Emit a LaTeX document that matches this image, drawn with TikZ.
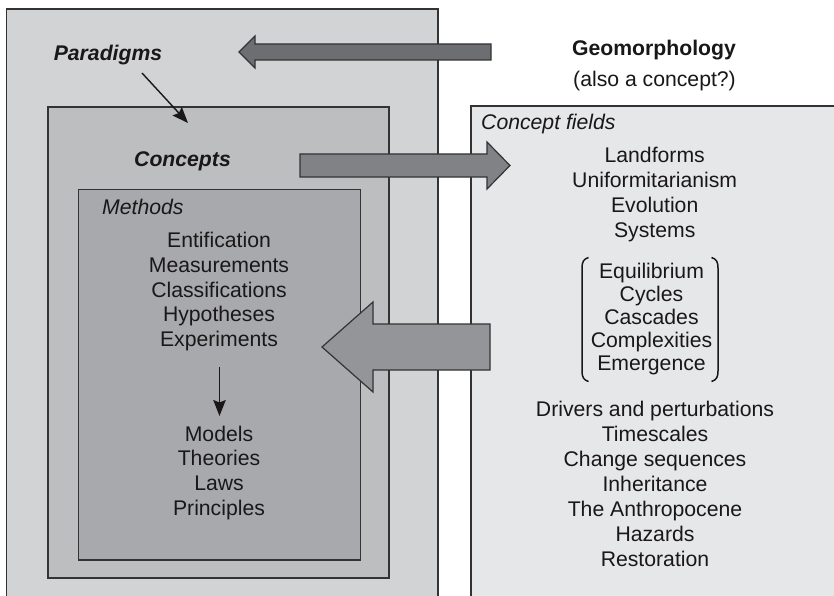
\documentclass[tikz,border=0pt]{standalone}
\usepackage{fontspec}
\setmainfont{Liberation Sans}
\usetikzlibrary{arrows.meta}
\definecolor{outerfill}{HTML}{D1D3D4}
\definecolor{midfill}{HTML}{BCBEC0}
\definecolor{innfill}{HTML}{A7A9AC}
\definecolor{rightfill}{HTML}{E6E7E8}
\definecolor{arrA}{HTML}{6D6E71}
\definecolor{arrB}{HTML}{808285}
\definecolor{arrC}{HTML}{939598}
\definecolor{txt}{HTML}{1A1718}
\definecolor{edge}{HTML}{333335}
\begin{document}
\begin{tikzpicture}[x=1pt,y=-1pt,
  lbl/.style={inner sep=0pt, text=txt, font=\fontsize{21.2}{25}\selectfont},
  boldlbl/.style={lbl, font=\fontsize{21.2}{25}\selectfont\bfseries},
  bilbl/.style={lbl, font=\fontsize{21.2}{25}\selectfont\bfseries\itshape},
  itlbl/.style={lbl, font=\fontsize{21.2}{25}\selectfont\itshape},
  panel/.style={draw=edge, line width=1.3pt},
  blockarrow/.style={draw=edge, line width=1.2pt, line join=miter},
  thinarrow/.style={draw=txt, line width=1.4pt, -{Stealth[length=16pt,width=12.5pt,inset=2.5pt]}}]
\clip (0,0) rectangle (834,596);
\fill[white] (0,0) rectangle (834,596);
% panels
\draw[panel, fill=outerfill] (6.5,9) rectangle (438,620);
\draw[panel, fill=midfill] (48,107) rectangle (389,578);
\draw[panel, fill=innfill] (78.5,189.5) rectangle (360.5,560);
\draw[panel, fill=rightfill] (471,106) rectangle (850,620);
% block arrows
\draw[blockarrow, fill=arrA] (491,44) -- (255,44) -- (255,36) -- (239,52) -- (255,68) -- (255,60) -- (491,60) -- cycle;
\draw[blockarrow, fill=arrB] (300,154) -- (487,154) -- (487,142) -- (510,165.5) -- (487,189) -- (487,177) -- (300,177) -- cycle;
\draw[blockarrow, fill=arrC] (490,324) -- (373,324) -- (373,302) -- (322,347) -- (373,392) -- (373,370) -- (490,370) -- cycle;
% headings
\node[bilbl, anchor=base] (para) at (108,61) {Paradigms};
\node[bilbl, anchor=base] (conc) at (182.5,166) {Concepts};
\node[itlbl, anchor=base west] (meth) at (102,214) {Methods};
\node[itlbl, anchor=base west] (cfld) at (481,130) {Concept fields};
\node[boldlbl, anchor=base] (geo) at (654,56) {Geomorphology};
\node[lbl, anchor=base] (geo2) at (654.5,87) {(also a concept?)};
% methods lists
\foreach \t [count=\i] in {Entification,Measurements,Classifications,Hypotheses,Experiments}
  \node[lbl, anchor=base] (m\i) at ({219},{247.5+24.75*(\i-1)}) {\t};
\foreach \t [count=\i] in {Models,Theories,Laws,Principles}
  \node[lbl, anchor=base] (r\i) at ({219},{441+24.9*(\i-1)}) {\t};
% concept field lists
\foreach \t [count=\i] in {Landforms,Uniformitarianism,Evolution,Systems}
  \node[lbl, anchor=base] (f\i) at ({654.7},{162.7+25*(\i-1)}) {\t};
\foreach \t [count=\i] in {Equilibrium,Cycles,Cascades,Complexities,Emergence}
  \node[lbl, anchor=base] (q\i) at ({651.5},{278.3+23.1*(\i-1)}) {\t};
\foreach \t [count=\i] in {Drivers and perturbations,Timescales,Change sequences,Inheritance,The Anthropocene,Hazards,Restoration}
  \node[lbl, anchor=base] (d\i) at ({655},{416+25*(\i-1)}) {\t};
% brackets
\draw[txt, line width=1.5pt] (588.5,257.5) .. controls (583.5,259) and (582,262) .. (582,268) -- (582,371) .. controls (582,377) and (583.5,380) .. (588.5,381.5);
\draw[txt, line width=1.5pt] (711.5,257.5) .. controls (716.5,259) and (718,262) .. (718,268) -- (718,371) .. controls (718,377) and (716.5,380) .. (711.5,381.5);
% thin arrows
\coordinate (pa1) at (142,73);
\coordinate (pa2) at (188,123);
\draw[thinarrow] (pa1) -- (pa2);
\coordinate (ex1) at (219.5,367);
\coordinate (ex2) at (219.5,416);
\draw[thinarrow] (ex1) -- (ex2);
\end{tikzpicture}
\end{document}
